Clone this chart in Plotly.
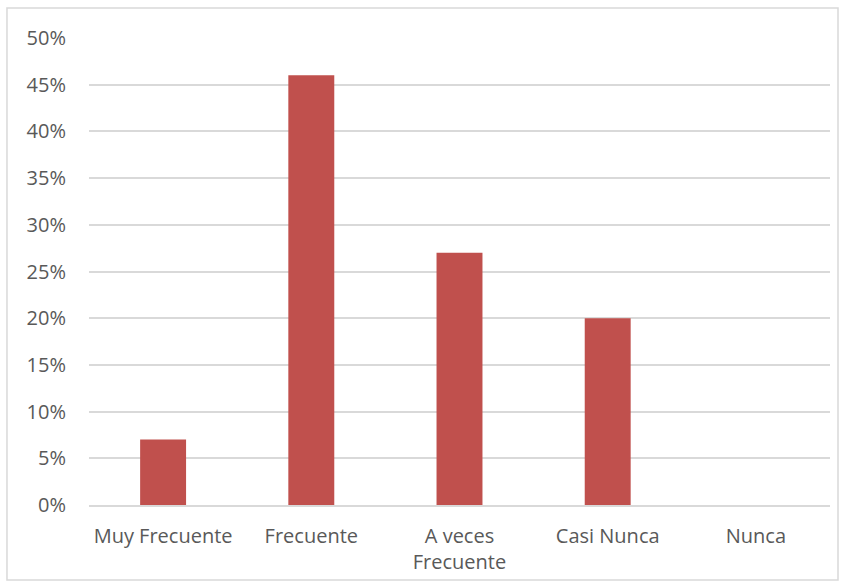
import plotly.graph_objects as go

# Survey response frequency distribution
categories = ["Muy Frecuente", "Frecuente", "A veces<br>Frecuente", "Casi Nunca", "Nunca"]
shares = [0.07, 0.46, 0.27, 0.20, 0.0]
y_ticks = [0, 0.05, 0.10, 0.15, 0.20, 0.25, 0.30, 0.35, 0.40, 0.45, 0.50]
y_tick_labels = ["0%", "5%", "10%", "15%", "20%", "25%", "30%", "35%", "40%", "45%", "50%"]

text_color = "#595959"
grid_color = "#D9D9D9"
font_size = 20

fig = go.Figure(
    go.Bar(
        x=categories,
        y=shares,
        marker=dict(color="#C0504D", line=dict(width=0)),
        hoverinfo="x+y",
    )
)

fig.update_layout(
    width=846,
    height=588,
    margin=dict(l=89, r=16, t=38, b=83),
    paper_bgcolor="white",
    plot_bgcolor="white",
    bargap=0.69,
    showlegend=False,
    font=dict(family="Open Sans, Lato, sans-serif", size=font_size, color=text_color),
    xaxis=dict(
        showgrid=False,
        showline=True,
        linecolor=grid_color,
        linewidth=1.5,
        ticks="outside",
        ticklen=12,
        tickcolor="rgba(0,0,0,0)",
        tickfont=dict(size=font_size, color=text_color),
        fixedrange=True,
    ),
    yaxis=dict(
        range=[0, 0.5],
        tickvals=y_ticks,
        ticktext=y_tick_labels,
        showgrid=True,
        gridcolor=grid_color,
        gridwidth=1.5,
        zeroline=False,
        showline=False,
        ticks="outside",
        ticklen=18,
        tickcolor="rgba(0,0,0,0)",
        tickfont=dict(size=font_size, color=text_color),
        fixedrange=True,
    ),
    shapes=[
        dict(
            type="rect",
            xref="paper",
            yref="paper",
            x0=-0.1107,
            x1=1.0108,
            y0=-0.1606,
            y1=1.0642,
            line=dict(color="#D9D9D9", width=1.5),
            fillcolor="rgba(0,0,0,0)",
            layer="below",
        )
    ],
)

fig.write_html("out.html")
